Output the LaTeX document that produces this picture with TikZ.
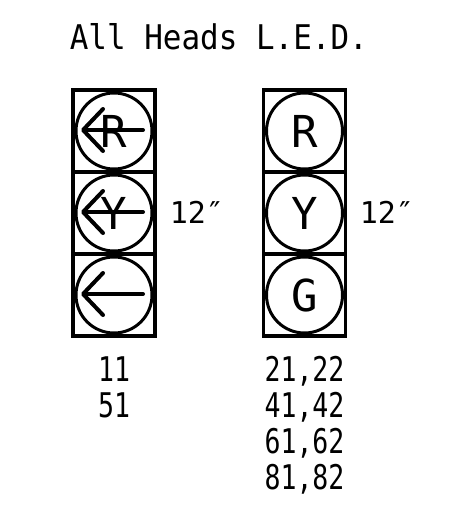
\documentclass[tikz,border=0pt]{standalone}
\usepackage{fontspec}
\newfontfamily\titlefont[FakeStretch=.91]{DejaVu Sans Mono}
\newfontfamily\numfont[FakeStretch=.78]{DejaVu Sans Mono}
\newfontfamily\tagfont{DejaVu Sans Mono}
\usetikzlibrary{arrows.meta}

\begin{document}
\begin{tikzpicture}[x=1pt,y=-1pt,line width=3pt]
   \useasboundingbox (0,0) rectangle (458,508);
   \tikzstyle{cell}=[rectangle, draw=black, minimum size=82pt, inner sep=0pt, line width=3.2pt]
   \tikzstyle{lamp}=[circle, draw=black, minimum size=76pt, inner sep=0pt, font=\tagfont\fontsize{44}{44}\selectfont]
   \tikzstyle{num}=[anchor=base, font=\numfont\fontsize{34}{34}\selectfont]
   \tikzstyle{sizetag}=[anchor=base west, font=\tagfont\fontsize{30}{30}\selectfont]
   \tikzstyle{turn}=[-{Straight Barb[length=20pt,width=42pt,round,line width=4pt]}, line cap=round, line width=4pt]
   \node[anchor=base west, font=\titlefont\fontsize{34}{34}\selectfont] (title) at (65,50) {All Heads L.E.D.};
   \foreach \i/\y/\word in {1/131/R,2/213/Y,3/295/} {
       \node[cell] (a\i) at (114,\y) {};
       \node[lamp] (p\i) at (114,\y) {\word};
       \coordinate (tail\i) at (143,\y-1);
       \coordinate (tip\i) at (81,\y-1);
       \path[draw, turn] (tail\i) -- (tip\i);
   }
   \foreach \i/\y/\word in {1/131/R,2/213/Y,3/295/G} {
       \node[cell] (b\i) at (304.5,\y) {};
       \node[lamp] (q\i) at (304.5,\y) {\word};
   }
   \node[sizetag] (size1) at (165,223) {12″};
   \node[sizetag] (size2) at (355,223) {12″};
   \foreach \i/\y/\word in {1/381/11,2/417/51} {
       \node[num] (n\i) at (114,\y) {\word};
   }
   \foreach \i/\y/\word in {1/381/{21,22},2/417/{41,42},3/453/{61,62},4/489/{81,82}} {
       \node[num] (m\i) at (304.5,\y) {\word};
   }
\end{tikzpicture}
\end{document}
